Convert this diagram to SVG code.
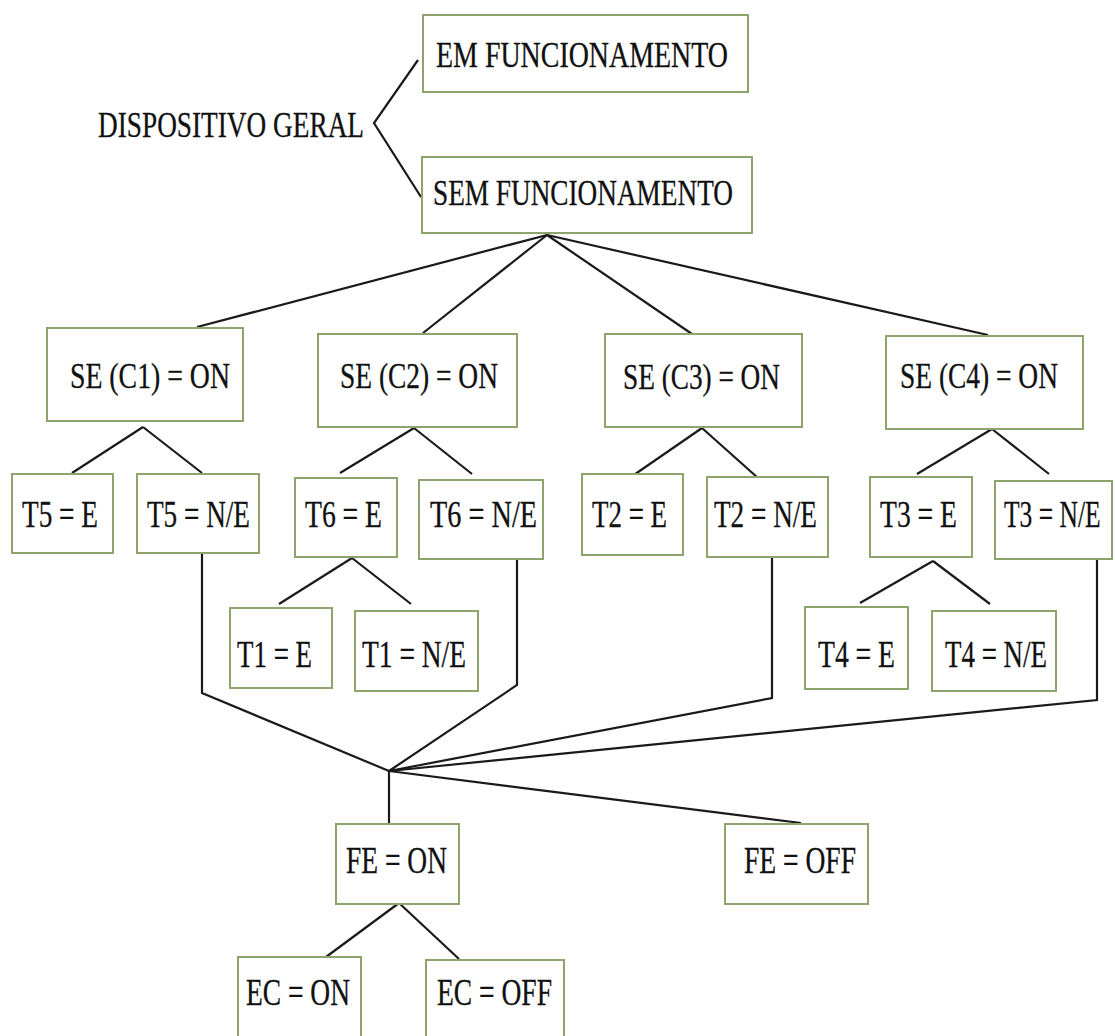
<svg xmlns="http://www.w3.org/2000/svg" width="1115" height="1036" viewBox="0 0 1115 1036">
  <style>
    .box { fill: #ffffff; stroke: #8ea46c; stroke-width: 2; }
    .lbl { font-family: "Liberation Serif", "Times New Roman", serif; font-size: 35px; fill: #111111; stroke: #111111; stroke-width: 0.3; }
    .tag { font-size: 37px; }
    .wire { fill: none; stroke: #1a1a1a; stroke-width: 2.2; stroke-linejoin: miter; }
  </style>
  <rect width="1115" height="1036" fill="#ffffff"/>

  <!-- connectors -->
  <g id="connectors" class="wire">
    <polyline points="418,60 374,123 421,197"/>
    <!-- SEM FUNCIONAMENTO fan-out -->
    <line x1="547" y1="235" x2="197" y2="327"/>
    <line x1="547" y1="235" x2="423" y2="333"/>
    <line x1="547" y1="235" x2="692" y2="334"/>
    <line x1="547" y1="235" x2="988" y2="335"/>
    <!-- SE (C1) -->
    <line x1="143" y1="427" x2="72" y2="473"/>
    <line x1="143" y1="427" x2="202" y2="473"/>
    <!-- SE (C2) -->
    <line x1="414" y1="428" x2="340" y2="473"/>
    <line x1="414" y1="428" x2="472" y2="474"/>
    <!-- SE (C3) -->
    <line x1="702" y1="428" x2="628" y2="479"/>
    <line x1="702" y1="428" x2="758" y2="478"/>
    <!-- SE (C4) -->
    <line x1="992" y1="429" x2="917" y2="474"/>
    <line x1="992" y1="429" x2="1049" y2="474"/>
    <!-- T6 = E -->
    <line x1="352" y1="558" x2="279" y2="604"/>
    <line x1="352" y1="558" x2="411" y2="604"/>
    <!-- T3 = E -->
    <line x1="933" y1="561" x2="860" y2="603"/>
    <line x1="933" y1="561" x2="990" y2="604"/>
    <!-- N/E branches merging -->
    <polyline points="202,553 202,693 389,771"/>
    <polyline points="517,559 517,685 389,771"/>
    <polyline points="772,557 772,698 389,771"/>
    <polyline points="1097,559 1097,700 389,771"/>
    <line x1="389" y1="771" x2="389" y2="824"/>
    <line x1="389" y1="771" x2="801" y2="823"/>
    <!-- FE = ON -->
    <line x1="399" y1="903" x2="326" y2="957"/>
    <line x1="399" y1="903" x2="459" y2="959"/>
  </g>

  <g id="dispositivo-geral">
    <text class="lbl" x="98" y="137" textLength="266" lengthAdjust="spacingAndGlyphs">DISPOSITIVO GERAL</text>
  </g>
  <g id="em-funcionamento">
    <rect class="box" x="423" y="15" width="325" height="77"/>
    <text class="lbl" x="436" y="67" font-size="34" textLength="292" lengthAdjust="spacingAndGlyphs">EM FUNCIONAMENTO</text>
  </g>
  <g id="sem-funcionamento">
    <rect class="box" x="422" y="157" width="330" height="76"/>
    <text class="lbl" x="433" y="205" font-size="34" textLength="300" lengthAdjust="spacingAndGlyphs">SEM FUNCIONAMENTO</text>
  </g>

  <g id="se-c1">
    <rect class="box" x="47" y="328" width="196" height="93"/>
    <text class="lbl" x="70" y="388" textLength="160" lengthAdjust="spacingAndGlyphs">SE (C1) = ON</text>
  </g>
  <g id="se-c2">
    <rect class="box" x="318" y="334" width="199" height="93"/>
    <text class="lbl" x="340" y="388" textLength="158" lengthAdjust="spacingAndGlyphs">SE (C2) = ON</text>
  </g>
  <g id="se-c3">
    <rect class="box" x="605" y="334" width="197" height="93"/>
    <text class="lbl" x="623" y="389" textLength="157" lengthAdjust="spacingAndGlyphs">SE (C3) = ON</text>
  </g>
  <g id="se-c4">
    <rect class="box" x="886" y="336" width="197" height="93"/>
    <text class="lbl" x="900" y="388" textLength="158" lengthAdjust="spacingAndGlyphs">SE (C4) = ON</text>
  </g>

  <g id="t5-e">
    <rect class="box" x="12" y="474" width="101" height="79"/>
    <text class="lbl tag" x="22" y="527" textLength="76" lengthAdjust="spacingAndGlyphs">T5 = E</text>
  </g>
  <g id="t5-ne">
    <rect class="box" x="137" y="474" width="122" height="79"/>
    <text class="lbl tag" x="147" y="527" textLength="103" lengthAdjust="spacingAndGlyphs">T5 = N/E</text>
  </g>
  <g id="t6-e">
    <rect class="box" x="295" y="478" width="102" height="79"/>
    <text class="lbl tag" x="305" y="527" textLength="77" lengthAdjust="spacingAndGlyphs">T6 = E</text>
  </g>
  <g id="t6-ne">
    <rect class="box" x="419" y="480" width="124" height="79"/>
    <text class="lbl tag" x="430" y="527" textLength="107" lengthAdjust="spacingAndGlyphs">T6 = N/E</text>
  </g>
  <g id="t2-e">
    <rect class="box" x="582" y="474" width="101" height="81"/>
    <text class="lbl tag" x="592" y="527" textLength="75" lengthAdjust="spacingAndGlyphs">T2 = E</text>
  </g>
  <g id="t2-ne">
    <rect class="box" x="707" y="477" width="121" height="80"/>
    <text class="lbl tag" x="714" y="527" textLength="103" lengthAdjust="spacingAndGlyphs">T2 = N/E</text>
  </g>
  <g id="t3-e">
    <rect class="box" x="870" y="477" width="102" height="80"/>
    <text class="lbl tag" x="880" y="527" textLength="77" lengthAdjust="spacingAndGlyphs">T3 = E</text>
  </g>
  <g id="t3-ne">
    <rect class="box" x="995" y="481" width="117" height="78"/>
    <!-- edge box: squeezed by a transform so the label stays inside the canvas -->
    <text class="lbl tag" transform="translate(1004 527) scale(0.69 1)">T3 = N/E</text>
  </g>

  <g id="t1-e">
    <rect class="box" x="230" y="608" width="102" height="80"/>
    <text class="lbl tag" x="237" y="667" textLength="75" lengthAdjust="spacingAndGlyphs">T1 = E</text>
  </g>
  <g id="t1-ne">
    <rect class="box" x="355" y="611" width="123" height="80"/>
    <text class="lbl tag" x="362" y="667" textLength="104" lengthAdjust="spacingAndGlyphs">T1 = N/E</text>
  </g>
  <g id="t4-e">
    <rect class="box" x="805" y="607" width="103" height="82"/>
    <text class="lbl tag" x="818" y="667" textLength="77" lengthAdjust="spacingAndGlyphs">T4 = E</text>
  </g>
  <g id="t4-ne">
    <rect class="box" x="932" y="611" width="124" height="80"/>
    <text class="lbl tag" x="945" y="667" textLength="102" lengthAdjust="spacingAndGlyphs">T4 = N/E</text>
  </g>

  <g id="fe-on">
    <rect class="box" x="336" y="824" width="123" height="80"/>
    <text class="lbl tag" x="346" y="873" textLength="101" lengthAdjust="spacingAndGlyphs">FE = ON</text>
  </g>
  <g id="fe-off">
    <rect class="box" x="725" y="824" width="143" height="80"/>
    <text class="lbl tag" x="744" y="873" textLength="112" lengthAdjust="spacingAndGlyphs">FE = OFF</text>
  </g>
  <g id="ec-on">
    <rect class="box" x="238" y="957" width="123" height="90"/>
    <text class="lbl tag" x="246" y="1005" textLength="104" lengthAdjust="spacingAndGlyphs">EC = ON</text>
  </g>
  <g id="ec-off">
    <rect class="box" x="426" y="960" width="138" height="90"/>
    <text class="lbl tag" x="437" y="1005" textLength="115" lengthAdjust="spacingAndGlyphs">EC = OFF</text>
  </g>
</svg>
